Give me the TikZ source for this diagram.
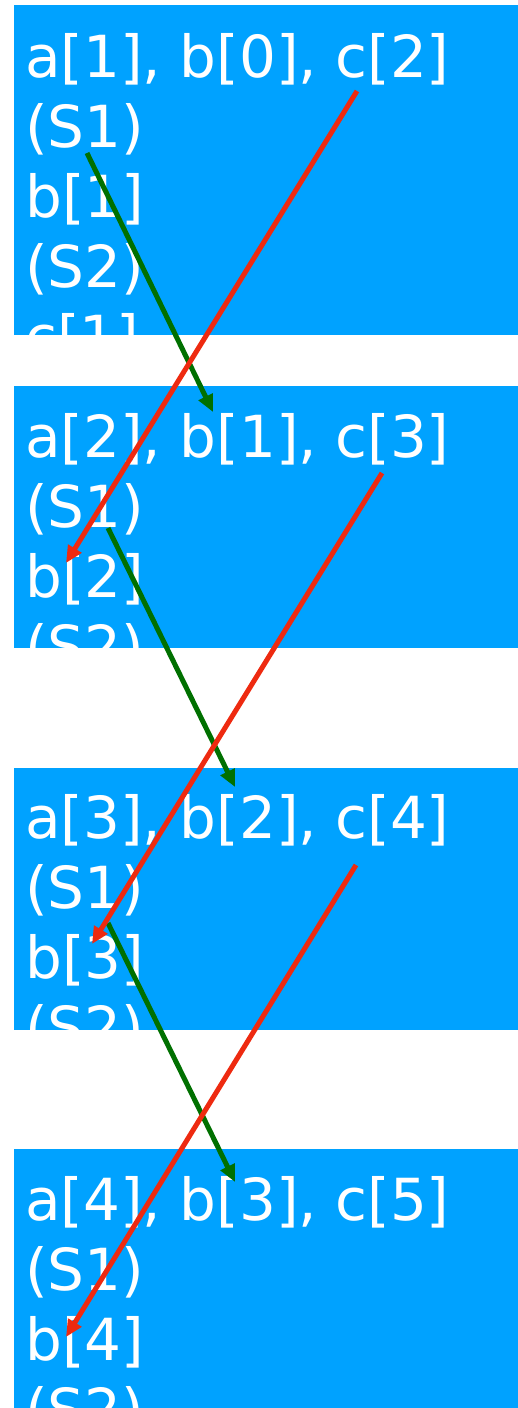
\documentclass[tikz,border=0pt]{standalone}
\usepackage{fontspec}
\setmainfont{DejaVu Sans}
\usepackage{xcolor}
\usetikzlibrary{arrows.meta}
\definecolor{BoxBlue}{HTML}{00A2FF}
\definecolor{DGreen}{HTML}{007000}
\definecolor{ARed}{HTML}{EE2A10}

\begin{document}
\begin{tikzpicture}[x=1pt, y=-1pt,
  every node/.style={font=\fontsize{58}{70}\selectfont},
  ln/.style={anchor=base west, inner sep=0pt, text=white},
  blk/.style={rectangle, fill=BoxBlue, draw=none, anchor=north west, inner sep=0pt},
  garr/.style={-{Triangle[length=17pt,width=15pt]}, line width=5pt, draw=DGreen},
  rarr/.style={-{Triangle[length=17pt,width=15pt]}, line width=5pt, draw=ARed},
]
\useasboundingbox (0,0) rectangle (517,1408);
% blue blocks
\node[blk, minimum width=520pt, minimum height=330pt] (blk1) at (14,5)    {};
\node[blk, minimum width=520pt, minimum height=262pt] (blk2) at (14,386)  {};
\node[blk, minimum width=520pt, minimum height=262pt] (blk3) at (14,768)  {};
\node[blk, minimum width=520pt, minimum height=280pt] (blk4) at (14,1149) {};
% text of each block, cut at its lower edge
\begin{scope}
  \clip (blk1.north west) rectangle (blk1.south east);
  \node[ln] (l11) at (25,77)  {a[1], b[0], c[2]};
  \node[ln] (l12) at (25,147) {(S1)};
  \node[ln] (l13) at (25,217) {b[1]};
  \node[ln] (l14) at (25,287) {(S2)};
  \node[ln] (l15) at (25,357) {c[1]};
\end{scope}
\begin{scope}
  \clip (blk2.north west) rectangle (blk2.south east);
  \node[ln] (l21) at (25,457) {a[2], b[1], c[3]};
  \node[ln] (l22) at (25,527) {(S1)};
  \node[ln] (l23) at (25,597) {b[2]};
  \node[ln] (l24) at (25,667) {(S2)};
\end{scope}
\begin{scope}
  \clip (blk3.north west) rectangle (blk3.south east);
  \node[ln] (l31) at (25,838)  {a[3], b[2], c[4]};
  \node[ln] (l32) at (25,908)  {(S1)};
  \node[ln] (l33) at (25,978)  {b[3]};
  \node[ln] (l34) at (25,1048) {(S2)};
\end{scope}
\begin{scope}
  \clip (blk4.north west) rectangle (blk4.south east);
  \node[ln] (l41) at (25,1220) {a[4], b[3], c[5]};
  \node[ln] (l42) at (25,1290) {(S1)};
  \node[ln] (l43) at (25,1360) {b[4]};
  \node[ln] (l44) at (25,1430) {(S2)};
\end{scope}
% arrow ends
\coordinate (g1s) at (87,153);   \coordinate (g1e) at (213,412);
\coordinate (g2s) at (108,528);  \coordinate (g2e) at (235,787);
\coordinate (g3s) at (108,923);  \coordinate (g3e) at (235,1182);
\coordinate (r1s) at (357,91);   \coordinate (r1e) at (66,563);
\coordinate (r2s) at (382,473);  \coordinate (r2e) at (92,944);
\coordinate (r3s) at (356,865);  \coordinate (r3e) at (66,1337);
\draw[garr] (g1s) -- (g1e);
\draw[garr] (g2s) -- (g2e);
\draw[garr] (g3s) -- (g3e);
\draw[rarr] (r1s) -- (r1e);
\draw[rarr] (r2s) -- (r2e);
\draw[rarr] (r3s) -- (r3e);
\end{tikzpicture}
\end{document}
